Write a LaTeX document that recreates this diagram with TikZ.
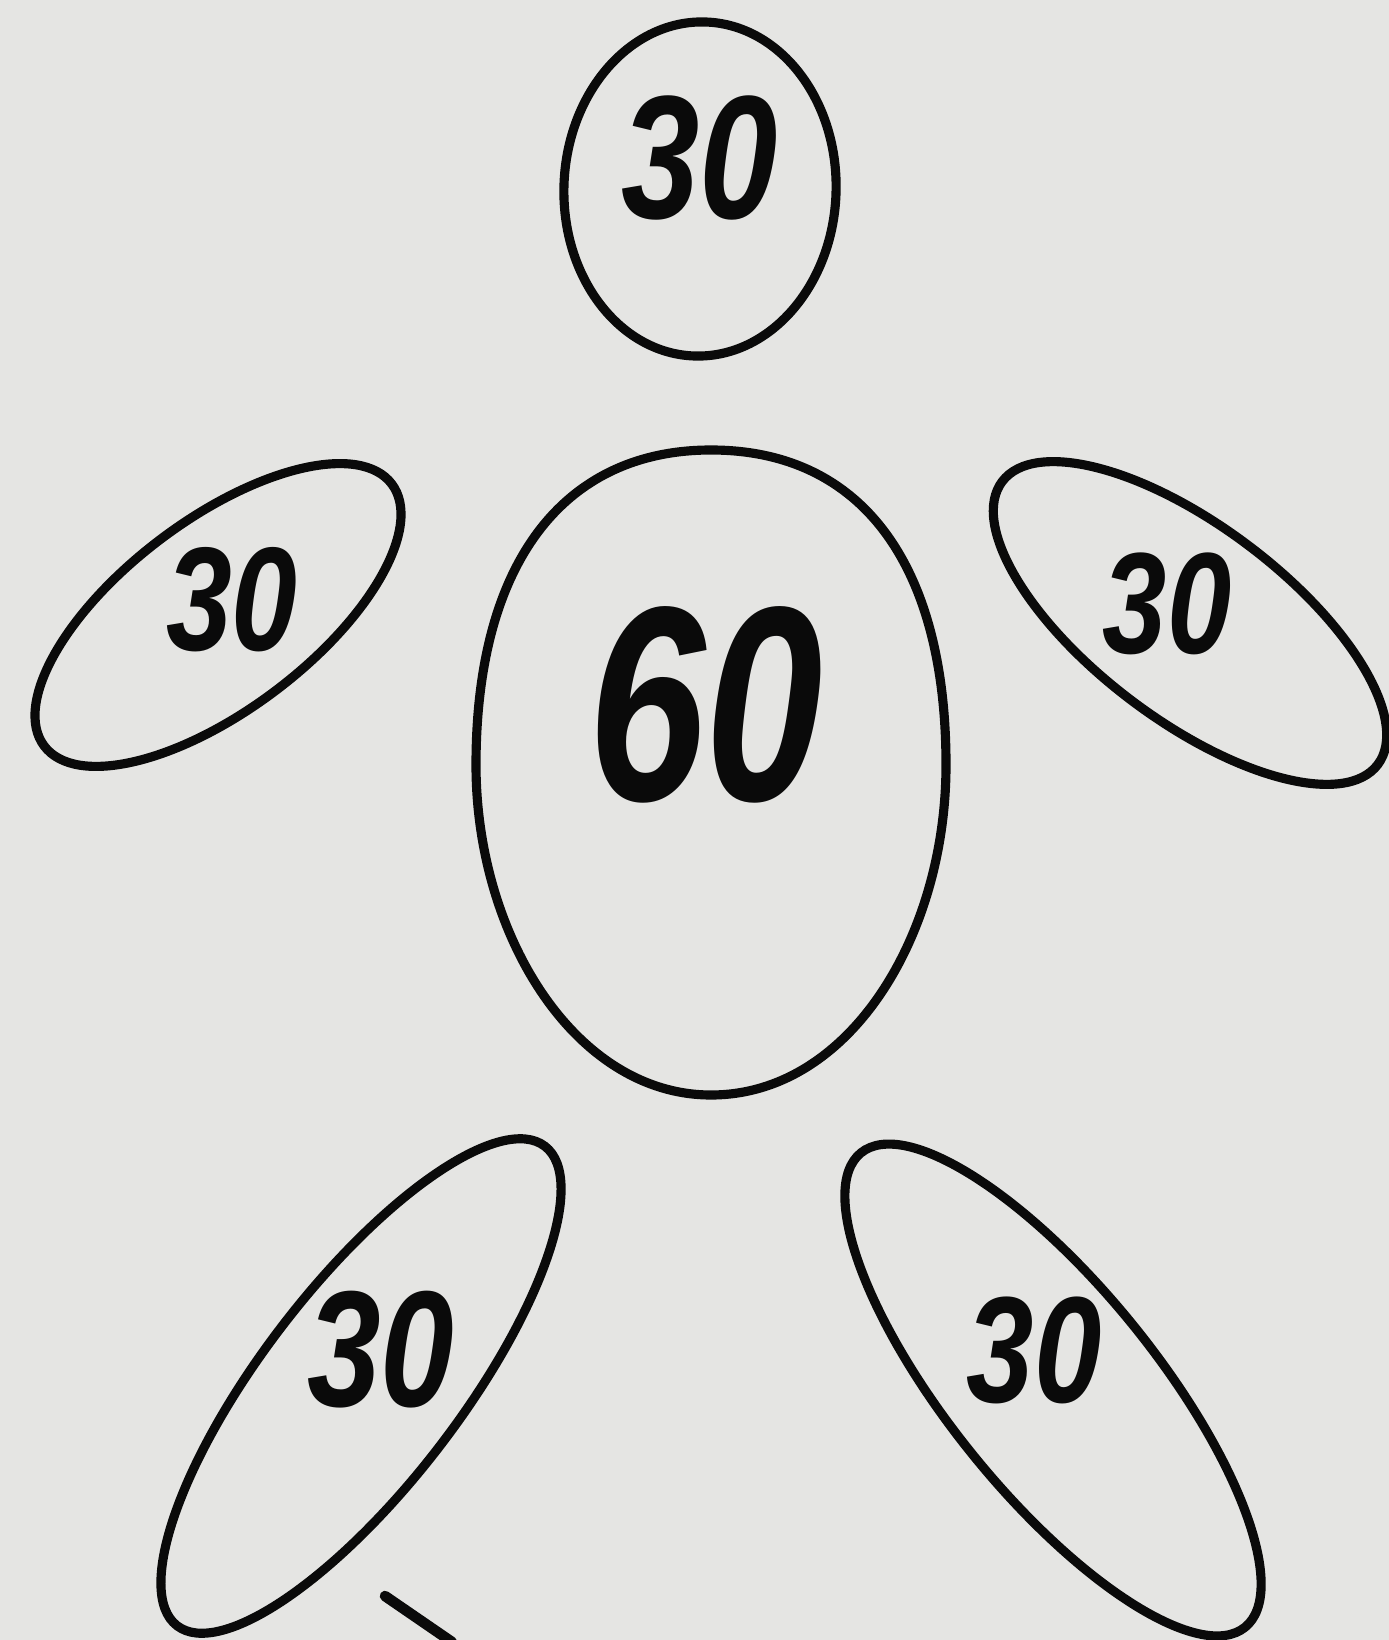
\documentclass[tikz,border=0pt]{standalone}
\usepackage{fontspec}
\setmainfont{Liberation Sans}
\usetikzlibrary{shapes.geometric}
\definecolor{paper}{RGB}{229,229,227}
\definecolor{ink}{RGB}{10,10,10}
\tikzset{
  blob/.style={draw=ink, line width=2.6pt, ellipse, inner sep=0pt},
  num/.style={text=ink, xscale=0.8, inner sep=0pt},
}
\begin{document}
\begin{tikzpicture}[x=0.01cm,y=-0.01cm]
\fill[paper] (0,0) rectangle (1389,1640);
\useasboundingbox (0,0) rectangle (1389,1640);

% surrounding ellipses
\node[blob, minimum width=2.72cm, minimum height=3.34cm, rotate=-2] (top) at (700,189) {};
\node[blob, minimum width=4.35cm, minimum height=1.9cm, rotate=37] (left) at (218,615) {};
\node[blob, minimum width=4.7cm, minimum height=1.94cm, rotate=-37] (right) at (1190,623) {};
\node[blob, minimum width=6.04cm, minimum height=1.98cm, rotate=52.5] (bl) at (361,1386) {};
\node[blob, minimum width=6.1cm, minimum height=2.06cm, rotate=-51] (br) at (1053,1390) {};

% central egg
\coordinate (egg) at (711,772);
\draw[draw=ink, line width=2.6pt]
  (711,450) .. controls (862,450) and (946,565) .. (946,765)
  .. controls (946,935) and (850,1095) .. (711,1095)
  .. controls (575,1095) and (476,935) .. (476,765)
  .. controls (476,565) and (562,450) .. (711,450) -- cycle;

% labels
\node[num, font=\fontsize{50}{50}\selectfont\bfseries\itshape] (ttop) at (700,158) {30};
\node[num, font=\fontsize{42}{42}\selectfont\bfseries\itshape] (tleft) at (232,600) {30};
\node[num, font=\fontsize{41}{41}\selectfont\bfseries\itshape] (tright) at (1167,604) {30};
\node[num, font=\fontsize{79}{79}\selectfont\bfseries\itshape, xscale=0.95] (tcenter) at (706,705) {60};
\node[num, font=\fontsize{47}{47}\selectfont\bfseries\itshape] (tbl) at (381,1350) {30};
\node[num, font=\fontsize{43}{43}\selectfont\bfseries\itshape] (tbr) at (1034,1350) {30};

% small stroke at bottom
\coordinate (s1) at (385,1596);
\coordinate (s2) at (452,1642);
\draw[ink, line width=3pt, line cap=round] (s1) -- (s2);
\end{tikzpicture}
\end{document}
